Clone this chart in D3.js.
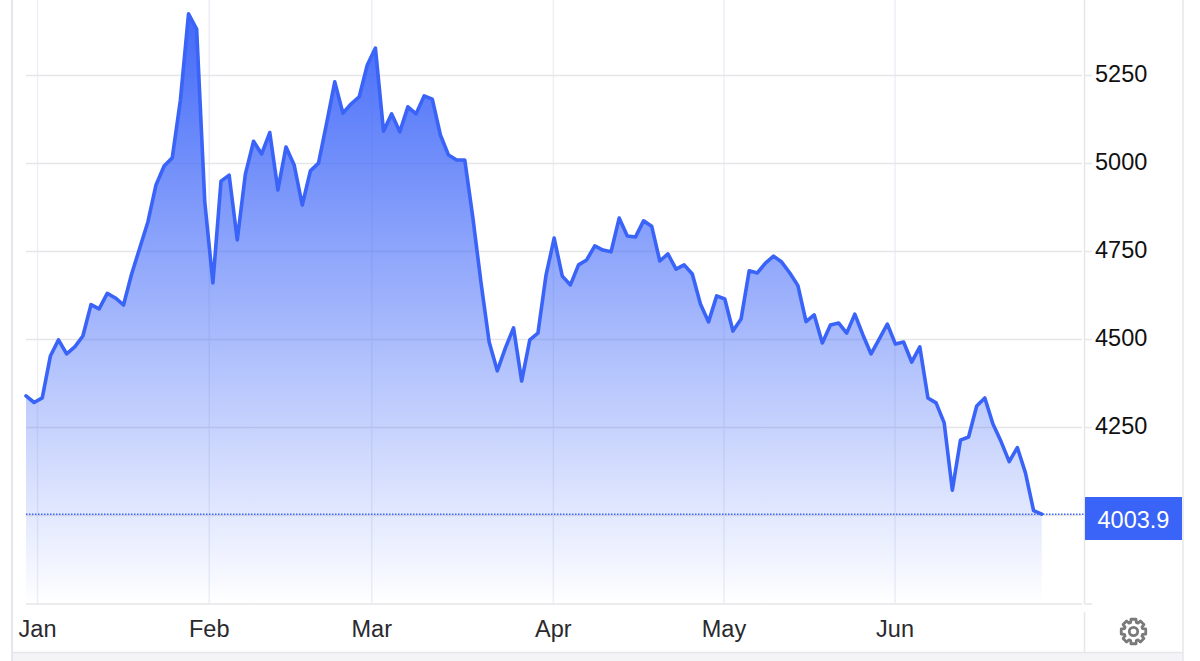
<!DOCTYPE html>
<html>
<head>
<meta charset="utf-8">
<script src="https://cdn.jsdelivr.net/npm/d3@7"></script>
<style>
html,body{margin:0;padding:0;background:#fff;overflow:hidden}
svg{display:block}
text{font-family:"Liberation Sans",Arial,sans-serif}
</style>
</head>
<body>
<svg id="c" width="1200" height="661"></svg>
<script>
const values = [
4340,4321,4334,4453,4499,4459,4479,4510,4599,4587,4631,4618,4598,4686,4760,4834,4939,4993,5016,5180,5425,5382,4891,4661,4950,4967,4783,4970,5063,5027,5088,4925,5047,4996,4882,4979,5001,5115,5232,5143,5169,5189,5280,5328,5092,5141,5090,5161,5141,5192,5183,5081,5024,5010,5010,4845,4661,4493,4411,4476,4533,4382,4499,4518,4683,4788,4680,4655,4712,4726,4766,4754,4749,4845,4794,4791,4837,4822,4723,4743,4700,4712,4686,4601,4550,4624,4615,4524,4558,4695,4689,4717,4737,4720,4689,4653,4551,4570,4490,4541,4547,4518,4572,4513,4459,4501,4544,4487,4493,4436,4479,4334,4320,4263,4072,4214,4223,4311,4334,4260,4210,4153,4193,4121,4014,4003.9];
const monthLabels = ["Jan","Feb","Mar","Apr","May","Jun"];
const monthPositions = [1.42,22.55,42.55,64.9,85.9,106.95];
const yTicks = [4000,4250,4500,4750,5000,5250];
const lastLabel = "4003.9";

const svg = d3.select("#c");
const x = d3.scaleLinear().domain([0, values.length - 1]).range([26, 1041.7]);
const y = d3.scaleLinear().domain([4000, 5250]).range([515.5, 75.5]);
const plotBottom = 604, plotRight = 1082, axisX = 1084.5;
const blue = "#3a63f8";

const defs = svg.append("defs");
const grad = defs.append("linearGradient").attr("id","fade")
  .attr("gradientUnits","userSpaceOnUse").attr("x1",0).attr("x2",0).attr("y1",y(5425)).attr("y2",plotBottom);
grad.append("stop").attr("offset",0).attr("stop-color",blue).attr("stop-opacity",0.96);
grad.append("stop").attr("offset",1).attr("stop-color",blue).attr("stop-opacity",0.0);

// page frame
svg.append("rect").attr("x",12).attr("y",652).attr("width",1171).attr("height",9).attr("fill","#f4f4f6");
svg.append("line").attr("x1",12).attr("x2",1183).attr("y1",652.5).attr("y2",652.5).attr("stroke","#e6e6ea").attr("stroke-width",1.5);
svg.append("line").attr("x1",12).attr("x2",12).attr("y1",0).attr("y2",661).attr("stroke","#e6e6ec").attr("stroke-width",2);
svg.append("line").attr("x1",1183).attr("x2",1183).attr("y1",0).attr("y2",661).attr("stroke","#e6e6ec").attr("stroke-width",1.5);

// grid
svg.append("g").selectAll("line").data(monthPositions).join("line")
  .attr("x1",d=>x(d)).attr("x2",d=>x(d)).attr("y1",0).attr("y2",plotBottom)
  .attr("stroke","#ebf0f6").attr("stroke-width",1.5);
svg.append("g").selectAll("line").data(yTicks).join("line")
  .attr("x1",26).attr("x2",plotRight).attr("y1",d=>y(d)).attr("y2",d=>y(d))
  .attr("stroke","#e6e6e8").attr("stroke-width",1.5);

// axes frame
svg.append("line").attr("x1",26).attr("x2",plotRight).attr("y1",plotBottom).attr("y2",plotBottom).attr("stroke","#e6e6e8").attr("stroke-width",1.5);
svg.append("line").attr("x1",axisX).attr("x2",axisX).attr("y1",0).attr("y2",plotBottom).attr("stroke","#e6e6e8").attr("stroke-width",1.5);
svg.append("line").attr("x1",axisX).attr("x2",axisX).attr("y1",612).attr("y2",652).attr("stroke","#e6e6e8").attr("stroke-width",1.5);
svg.append("line").attr("x1",axisX).attr("x2",1092).attr("y1",plotBottom).attr("y2",plotBottom).attr("stroke","#e6e6e8").attr("stroke-width",1.5);
svg.append("g").selectAll("line").data(yTicks).join("line")
  .attr("x1",axisX).attr("x2",1092).attr("y1",d=>y(d)).attr("y2",d=>y(d))
  .attr("stroke","#e6e6e8").attr("stroke-width",1.5);

// area + line
const area = d3.area().x((d,i)=>x(i)).y0(plotBottom).y1(d=>y(d));
const line = d3.line().x((d,i)=>x(i)).y(d=>y(d));
svg.append("path").datum(values).attr("d",area).attr("fill","url(#fade)");
svg.append("path").datum(values).attr("d",line).attr("fill","none").attr("stroke",blue).attr("stroke-width",3.6).attr("stroke-linejoin","round").attr("stroke-linecap","round");

// last value line
const last = values[values.length-1];
svg.append("line").attr("x1",26).attr("x2",axisX).attr("y1",y(last)).attr("y2",y(last))
  .attr("stroke",blue).attr("stroke-width",1.5).attr("stroke-dasharray","1.5 1.5");

// y labels
svg.append("g").selectAll("text").data(yTicks.filter(d=>d>4000)).join("text")
  .attr("x",1095).attr("y",d=>y(d)+6.8).attr("font-size",23.5).attr("fill","#111")
  .text(d=>d);

// x labels
svg.append("g").selectAll("text").data(monthLabels).join("text")
  .attr("x",(d,i)=>x(monthPositions[i])).attr("y",636.5).attr("text-anchor","middle")
  .attr("font-size",23.5).attr("fill","#2a2a2e").text(d=>d);

// last value box
svg.append("rect").attr("x",1085).attr("y",497).attr("width",97).attr("height",43).attr("fill",blue);
svg.append("text").attr("x",1133.5).attr("y",528).attr("text-anchor","middle").attr("font-size",23.5).attr("fill","#fff").text(lastLabel);

// settings gear
const teeth = 8, ro = 12.5, ri = 9.5;
const gearPts = [];
for (let k=0;k<teeth;k++){
  const a = k*2*Math.PI/teeth - Math.PI/2, w = 0.2, g = 0.3;
  gearPts.push([a-g,ri],[a-w,ro],[a+w,ro],[a+g,ri]);
}
const gear = svg.append("g").attr("transform","translate(1133.5,631.5)");
gear.append("path").attr("d", d3.lineRadial().angle(d=>d[0]+Math.PI/2).radius(d=>d[1]).curve(d3.curveLinearClosed)(gearPts))
  .attr("fill","none").attr("stroke","#7a7a7a").attr("stroke-width",2.8).attr("stroke-linejoin","round");
gear.append("circle").attr("r",4.2).attr("fill","none").attr("stroke","#7a7a7a").attr("stroke-width",2.8);
</script>
</body>
</html>
